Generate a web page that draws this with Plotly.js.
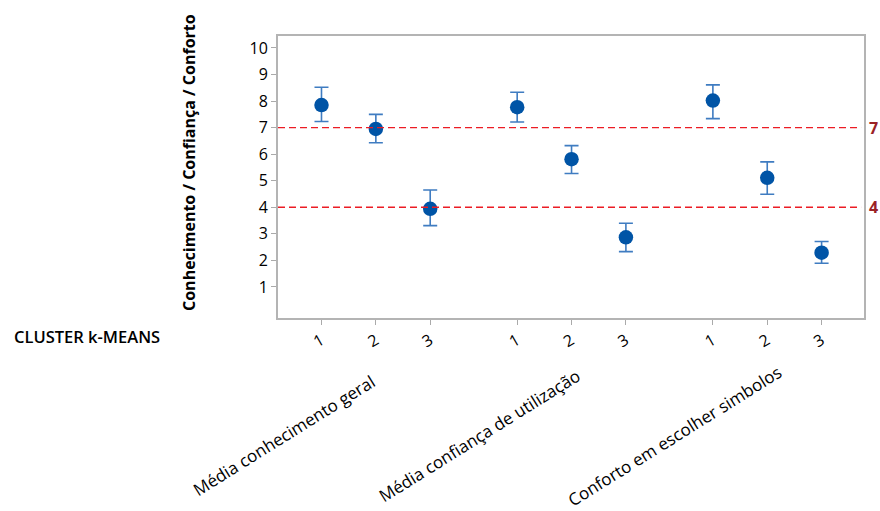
<!DOCTYPE html>
<html>
<head>
<meta charset="utf-8">
<script src="https://cdn.plot.ly/plotly-3.0.1.min.js"></script>
<style>
  html, body { margin: 0; padding: 0; background: #fff; }
  #chart { width: 880px; height: 511px; }
</style>
</head>
<body>
<div id="chart"></div>
<script>
// Interval plot: mean and interval per k-means cluster, for three measures
const groups = ['Média conhecimento geral', 'Média confiança de utilização', 'Conforto em escolher simbolos'];
const clusters = ['1', '2', '3'];
const means = [7.85, 6.95, 3.94, 7.77, 5.81, 2.87, 8.02, 5.11, 2.29];
const upper = [8.52, 7.50, 4.65, 8.33, 6.32, 3.40, 8.61, 5.71, 2.71];
const lower = [7.23, 6.43, 3.31, 7.21, 5.27, 2.33, 7.34, 4.49, 1.89];
const refLines = [7, 4];

// slot layout: clusters side by side, with a wider gap between groups
const groupStep = 3.6;
const xs = [], tickText = [];
groups.forEach((g, gi) => {
  clusters.forEach((c, ci) => {
    xs.push(gi * groupStep + ci);
    tickText.push(c);
  });
});

const font = 'Open Sans, Noto Sans, sans-serif';

const trace = {
  type: 'scatter',
  mode: 'markers',
  x: xs,
  y: means,
  marker: { color: '#0054a6', size: 14.5 },
  error_y: {
    type: 'data',
    symmetric: false,
    array: upper.map((u, i) => u - means[i]),
    arrayminus: lower.map((l, i) => means[i] - l),
    color: '#3f7cc1',
    thickness: 1.6,
    width: 7
  },
  hoverinfo: 'x+y'
};

const shapes = refLines.map(v => ({
  type: 'line', xref: 'paper', yref: 'y',
  x0: 0, x1: 0.995, y0: v, y1: v,
  line: { color: '#ec1c24', width: 1.3, dash: '7px,4px' }
}));

const annotations = [];
refLines.forEach(v => annotations.push({
  xref: 'paper', yref: 'y', x: 1, y: v,
  xanchor: 'left', yanchor: 'middle', xshift: 3,
  text: String(v), showarrow: false,
  font: { family: font, size: 16, color: '#9b2226', weight: 'bold' }
}));
groups.forEach((g, gi) => annotations.push({
  xref: 'x', yref: 'paper', x: gi * groupStep + 1, y: -0.418,
  xanchor: 'center', yanchor: 'middle', xshift: -92,
  text: g, textangle: -32, showarrow: false,
  font: { family: font, size: 17, color: '#000' }
}));
annotations.push({
  xref: 'paper', yref: 'paper', x: -0.152, y: 0.553,
  xanchor: 'center', yanchor: 'middle',
  text: 'Conhecimento / Confiança / Conforto', textangle: -90, showarrow: false,
  font: { family: font, size: 16, color: '#000', weight: 'bold' }
});
annotations.push({
  xref: 'paper', yref: 'paper', x: -0.454, y: -0.064,
  xanchor: 'left', yanchor: 'middle',
  text: 'CLUSTER k-MEANS', showarrow: false,
  font: { family: font, size: 16.5, color: '#000', weight: 600 }
});

const layout = {
  width: 880, height: 511,
  margin: { l: 278, r: 16, t: 36, b: 193 },
  paper_bgcolor: '#fff', plot_bgcolor: '#fff',
  showlegend: false,
  font: { family: font, color: '#000' },
  xaxis: {
    range: [-0.8, 9.98],
    tickmode: 'array', tickvals: xs, ticktext: tickText,
    tickangle: -30,
    ticks: 'outside', ticklen: 5, tickcolor: '#aaa',
    showgrid: false, zeroline: false,
    showline: true, linecolor: '#b4b4b4', linewidth: 2, mirror: true,
    tickfont: { family: font, size: 16, color: '#000' }
  },
  yaxis: {
    range: [-0.17, 10.45],
    tickmode: 'array', tickvals: [1, 2, 3, 4, 5, 6, 7, 8, 9, 10],
    ticks: 'outside', ticklen: 5, tickcolor: '#aaa',
    showgrid: false, zeroline: false,
    showline: true, linecolor: '#b4b4b4', linewidth: 2, mirror: true,
    tickfont: { family: font, size: 16, color: '#000' }
  },
  shapes: shapes,
  annotations: annotations
};

Plotly.newPlot('chart', [trace], layout, { displayModeBar: false, staticPlot: true });
</script>
</body>
</html>
